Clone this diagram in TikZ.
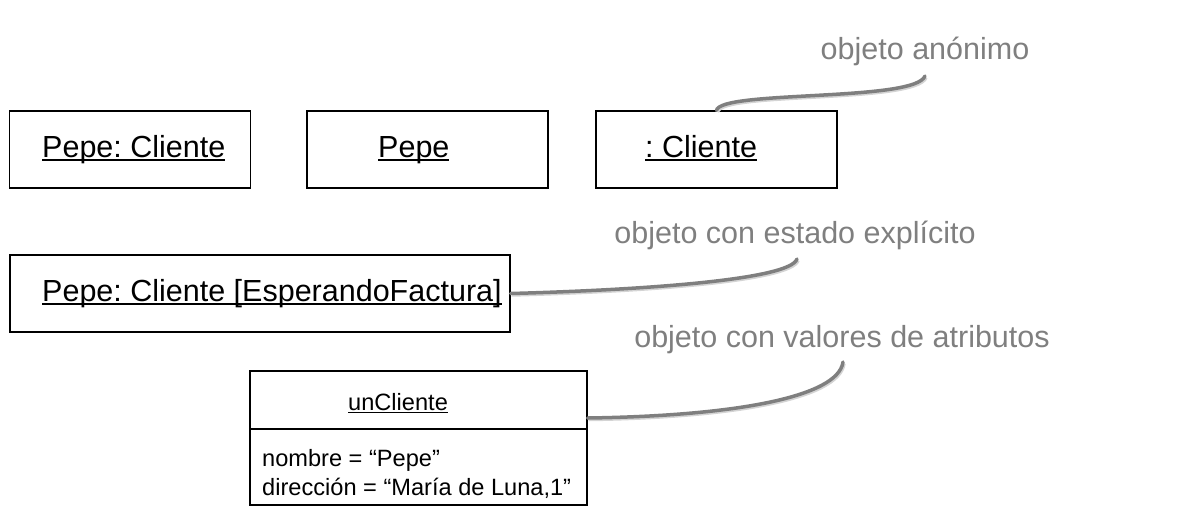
\documentclass[tikz,border=0pt]{standalone}
\usepackage{fontspec}
\setmainfont{Liberation Sans}
\usetikzlibrary{
  positioning,
  calc
}
\definecolor{umlNote}{HTML}{7F7F7F}
\definecolor{umlShadow}{HTML}{D4D4D4}
\definecolor{umlLine}{HTML}{000000}
% underlined object name, rule just below the baseline
\newcommand{\objname}[1]{\setbox0\hbox{#1}\rlap{\rule[-0.13em]{\wd0}{0.055em}}\box0}
\frenchspacing

\begin{document}
\begin{tikzpicture}[x=1pt,y=-1pt,
  objbox/.style={draw=umlLine, line width=1.2pt, fill=white, inner sep=0pt,
    minimum width=241pt, minimum height=77pt},
  objtext/.style={anchor=base west, inner sep=0pt, font=\fontsize{30.5}{36}\selectfont},
  attrtext/.style={anchor=base west, inner sep=0pt, font=\fontsize{23.6}{28}\selectfont},
  notetext/.style={anchor=base, inner sep=0pt, text=umlNote, font=\fontsize{30.5}{36}\selectfont},
  noteline/.style={draw=umlNote, line width=3.5pt, line cap=round,
    preaction={draw=umlShadow, line width=3.5pt, transform canvas={xshift=1pt,yshift=-1.5pt}}}]
  \useasboundingbox (0,0) rectangle (1190,523);

  % objects
  \node[objbox] (pepeCliente) at (130,149.5) {};
  \node[objbox] (pepe) at (427.5,149.5) {};
  \node[objbox] (anonimo) at (716.5,149.5) {};
  \node[objbox, minimum width=500pt] (estado) at (260,293.5) {};
  \node[objbox, minimum width=337pt, minimum height=134pt] (unCliente) at (418.5,438) {};
  \draw[umlLine, line width=2pt] (unCliente.west |- 0,429) -- (unCliente.east |- 0,429);

  \node[objtext] (tPepeCliente) at (42,157) {\objname{Pepe: Cliente}};
  \node[objtext] (tPepe) at (378,157) {\objname{Pepe}};
  \node[objtext] (tAnonimo) at (645,157) {\objname{: Cliente}};
  \node[objtext] (tEstado) at (42,301) {\objname{Pepe: Cliente [EsperandoFactura]}};
  \node[attrtext] (tUnCliente) at (348,410) {\objname{unCliente}};
  \node[attrtext] (tNombre) at (262,466) {nombre = “Pepe”};
  \node[attrtext] (tDireccion) at (262,495) {dirección = “María de Luna,1”};

  % notes
  \node[notetext] (nAnonimo) at (925,59) {objeto anónimo};
  \node[notetext] (nEstado) at (795,243) {objeto con estado explícito};
  \node[notetext] (nValores) at (842,347) {objeto con valores de atributos};

  \coordinate (cAnonimo) at (925,76);
  \coordinate (cEstado) at (797,259);
  \coordinate (cValores) at (843,362);
  \draw[noteline] (anonimo.north) .. controls (720,90) and (915,102) .. (cAnonimo);
  \draw[noteline] (estado.east) .. controls (640,290) and (790,280) .. (cEstado);
  \draw[noteline] (unCliente.east |- 0,418) .. controls (730,416) and (838,398) .. (cValores);
\end{tikzpicture}
\end{document}
